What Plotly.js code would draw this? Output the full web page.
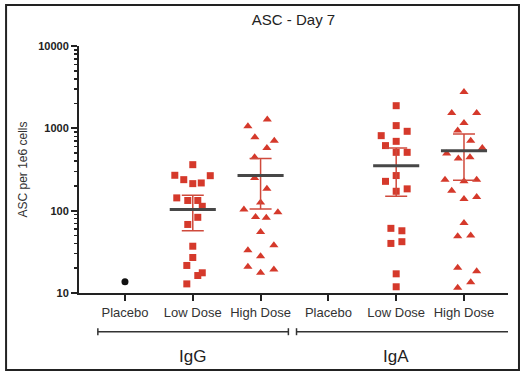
<!DOCTYPE html>
<html><head><meta charset="utf-8">
<script src="https://cdn.plot.ly/plotly-3.0.1.min.js"></script>
<style>html,body{margin:0;padding:0;background:#fff}#chart{width:523px;height:376px}</style>
</head><body><div id="chart"></div>
<script>
// ---- data ----
const categories = ["Placebo", "Low Dose", "High Dose", "Placebo", "Low Dose", "High Dose"];
const groupNames = ["IgG", "IgA"];

const igGPlacebo = [13.7];
const igGPlaceboJitter = [0];

const igGLow = [362, 269, 238, 213, 217, 266, 143, 133, 133, 113, 83, 68, 37, 27, 21.6, 16.3, 17.6, 12.9];
const igGLowJitter = [0, -0.265, -0.133, 0, 0.125, 0.258, -0.236, -0.074, 0.074, 0.14, 0.074, -0.074, 0, 0, -0.088, 0.074, 0.14, -0.088];

const igGHigh = [1276, 1057, 778, 709, 578, 445, 250, 185, 126, 103, 96, 84, 82, 55, 33, 38, 28, 20.8, 19.3, 17.6];
const igGHighJitter = [0.099, -0.187, -0.084, 0.202, 0.093, -0.088, -0.088, 0.093, 0, -0.246, 0.255, -0.074, 0.084, 0, -0.187, 0.196, 0, -0.187, 0.196, 0];

const igALow = [1884, 1079, 920, 815, 695, 617, 511, 511, 267, 227, 172, 184, 61, 57, 40, 42, 17.1, 11.9];
const igALowJitter = [0, 0, 0.162, -0.221, 0, -0.158, 0, 0.162, 0, -0.158, 0, 0.162, -0.078, 0.084, -0.078, 0.084, 0, 0];

const igAHigh = [2768, 1538, 1538, 1164, 938, 709, 578, 493, 429, 445, 238, 227, 238, 175, 139, 147, 71, 49, 50, 20.2, 18.4, 13.5, 11.6];
const igAHighJitter = [0, -0.181, 0.187, 0, -0.093, 0.099, 0.27, -0.255, -0.084, 0.088, -0.28, 0, 0.187, -0.181, 0, 0.187, 0, -0.093, 0.099, -0.093, 0.187, 0.099, -0.093];

// summary lines (mean and interval) per category index
const summaryIndex = [1, 2, 4, 5];
const meanValues = [103, 267, 352, 536];
const upperValues = [154, 429, 578, 855];
const lowerValues = [57, 105, 150, 234];

// ---- styles ----
const RED = "#d5392b";
const tickFont = {family: "Liberation Sans, Arial, sans-serif", size: 13, color: "#333"};

function pts(values, jitter, idx, symbol, color, size) {
  return {
    type: "scatter", mode: "markers",
    x: values.map((v, i) => idx + jitter[i]), y: values,
    marker: {symbol: symbol, color: color, size: size, line: {width: 0}},
    hoverinfo: "y", showlegend: false, cliponaxis: false
  };
}

const traces = [
  pts(igGPlacebo, igGPlaceboJitter, 0, "circle", "#111", 7),
  pts(igGLow, igGLowJitter, 1, "square", RED, 7),
  pts(igGHigh, igGHighJitter, 2, "triangle-up", RED, 8),
  pts(igALow, igALowJitter, 4, "square", RED, 7),
  pts(igAHigh, igAHighJitter, 5, "triangle-up", RED, 8),
  {
    type: "scatter", mode: "markers", x: summaryIndex, y: meanValues,
    marker: {color: "rgba(0,0,0,0)", size: 1},
    error_y: {type: "data", symmetric: false,
      array: upperValues.map((u, i) => u - meanValues[i]),
      arrayminus: meanValues.map((m, i) => m - lowerValues[i]),
      color: "#cf4a3c", thickness: 1.5, width: 11},
    showlegend: false, hoverinfo: "skip"
  },
  {
    type: "scatter", mode: "markers", x: summaryIndex, y: meanValues,
    marker: {color: "rgba(0,0,0,0)", size: 1},
    error_x: {type: "constant", value: 0.34, color: "#474747", thickness: 3, width: 0},
    showlegend: false, hoverinfo: "y"
  }
];

const bracketY = -0.1567;
const brackets = [{x0: -0.40, x1: 2.41}, {x0: 2.53, x1: 5.71}];
const shapes = [];
brackets.forEach(b => {
  shapes.push({type: "line", xref: "x", yref: "paper", x0: b.x0, x1: b.x1, y0: bracketY, y1: bracketY, line: {color: "#333", width: 1.5}});
  [b.x0, b.x1].forEach(xx => shapes.push({type: "line", xref: "x", yref: "paper", ysizemode: "pixel", yanchor: bracketY, x0: xx, x1: xx, y0: -3.5, y1: 3.5, line: {color: "#333", width: 1.5}}));
});
shapes.push({type: "rect", xref: "paper", yref: "paper", x0: -0.170, x1: 1.0256, y0: -0.312, y1: 1.166, line: {color: "#222", width: 2}, fillcolor: "rgba(0,0,0,0)"});

const annotations = groupNames.map((g, i) => ({
  text: g, xref: "x", yref: "paper", x: i * 3 + 1, y: -0.259, showarrow: false,
  yanchor: "middle", font: {family: "Liberation Sans, Arial, sans-serif", size: 17, color: "#222"}
}));

const layout = {
  width: 523, height: 376,
  margin: {l: 79, r: 15, t: 46, b: 83},
  paper_bgcolor: "#fff", plot_bgcolor: "#fff",
  title: {text: "ASC - Day 7", x: 0.5, xref: "paper", y: 0.947, yref: "container", yanchor: "middle",
    font: {family: "Liberation Sans, Arial, sans-serif", size: 15, color: "#222"}},
  xaxis: {
    range: [-0.678, 5.649], tickmode: "array", tickvals: [0, 1, 2, 3, 4, 5], ticktext: categories,
    showline: true, linecolor: "#222", linewidth: 2, ticks: "outside", ticklen: 6, tickwidth: 2, tickcolor: "#222",
    showgrid: false, zeroline: false, tickfont: tickFont, fixedrange: true
  },
  yaxis: {
    type: "log", range: [1, 4], tickmode: "array", tickvals: [10, 100, 1000, 10000], ticktext: ["10", "100", "1000", "10000"],
    showline: true, linecolor: "#222", linewidth: 2, ticks: "outside", ticklen: 6, tickwidth: 2, tickcolor: "#222",
    minor: {ticks: "outside", ticklen: 3, tickwidth: 1.5, tickcolor: "#222", dtick: "D1", showgrid: false},
    showgrid: false, zeroline: false,
    tickfont: {family: "Liberation Sans, Arial, sans-serif", size: 11, color: "#222", weight: "bold"},
    title: {text: "ASC per 1e6 cells", standoff: 8, font: {family: "Liberation Sans, Arial, sans-serif", size: 12, color: "#333"}},
    fixedrange: true
  },
  shapes: shapes, annotations: annotations
};

Plotly.newPlot("chart", traces, layout, {displayModeBar: false, staticPlot: true});
</script></body></html>
